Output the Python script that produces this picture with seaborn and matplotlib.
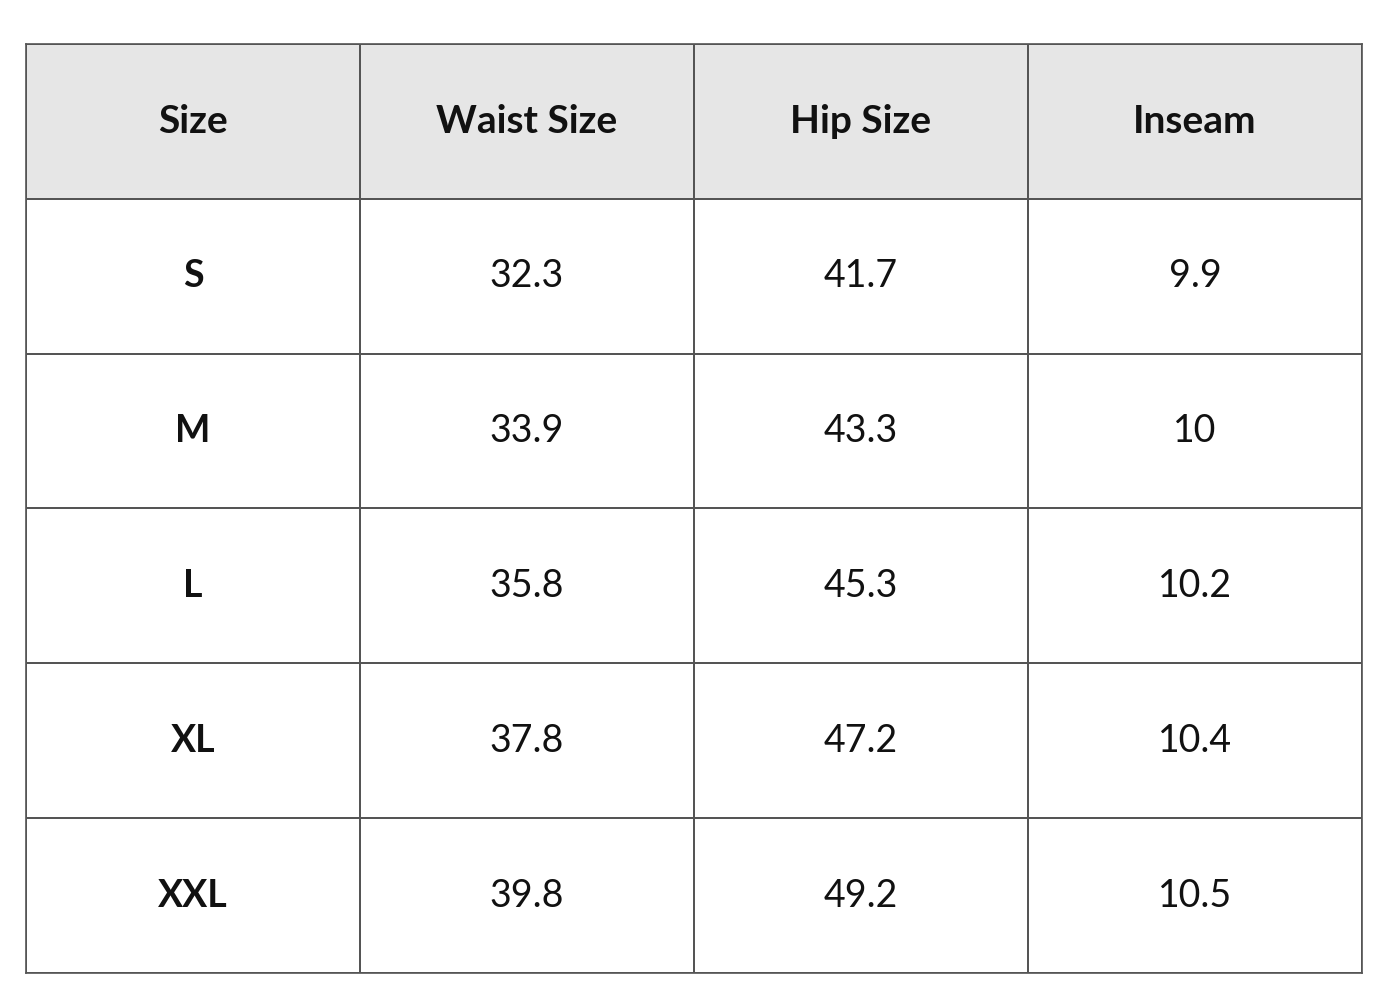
import matplotlib
matplotlib.use("Agg")
import matplotlib.pyplot as plt
import seaborn as sns
import numpy as np
from matplotlib.colors import ListedColormap

headers = ["Size", "Waist Size", "Hip Size", "Inseam"]
sizes = ["S", "M", "L", "XL", "XXL"]
waist = ["32.3", "33.9", "35.8", "37.8", "39.8"]
hip = ["41.7", "43.3", "45.3", "47.2", "49.2"]
inseam = ["9.9", "10", "10.2", "10.4", "10.5"]

sns.set_style("white")
plt.rcParams['font.family'] = ['Lato', 'DejaVu Sans']

fig = plt.figure(figsize=(14, 10), dpi=100)
ax = fig.add_axes([26/1400, 1-973/1000, (1362-26)/1400, (973-44)/1000])

mask_vals = np.zeros((6, 4))
mask_vals[0, :] = 1
sns.heatmap(mask_vals, ax=ax, cmap=ListedColormap(["white", "#e6e6e6"]), cbar=False,
            linewidths=1.2, linecolor="#555555", xticklabels=False, yticklabels=False)
for s in ax.spines.values():
    s.set_visible(True); s.set_color("#555555"); s.set_linewidth(1.2)

for j, h in enumerate(headers):
    ax.text(j + 0.5, 0.5, h, ha="center", va="center", fontsize=28, fontweight="bold", color="#111111")
cols = [sizes, waist, hip, inseam]
for j, col in enumerate(cols):
    for i, v in enumerate(col):
        ax.text(j + 0.5, i + 1.5, v, ha="center", va="center", fontsize=27,
                fontweight="bold" if j == 0 else "normal", color="#111111")

fig.savefig("out.png", dpi=100, facecolor="white")
